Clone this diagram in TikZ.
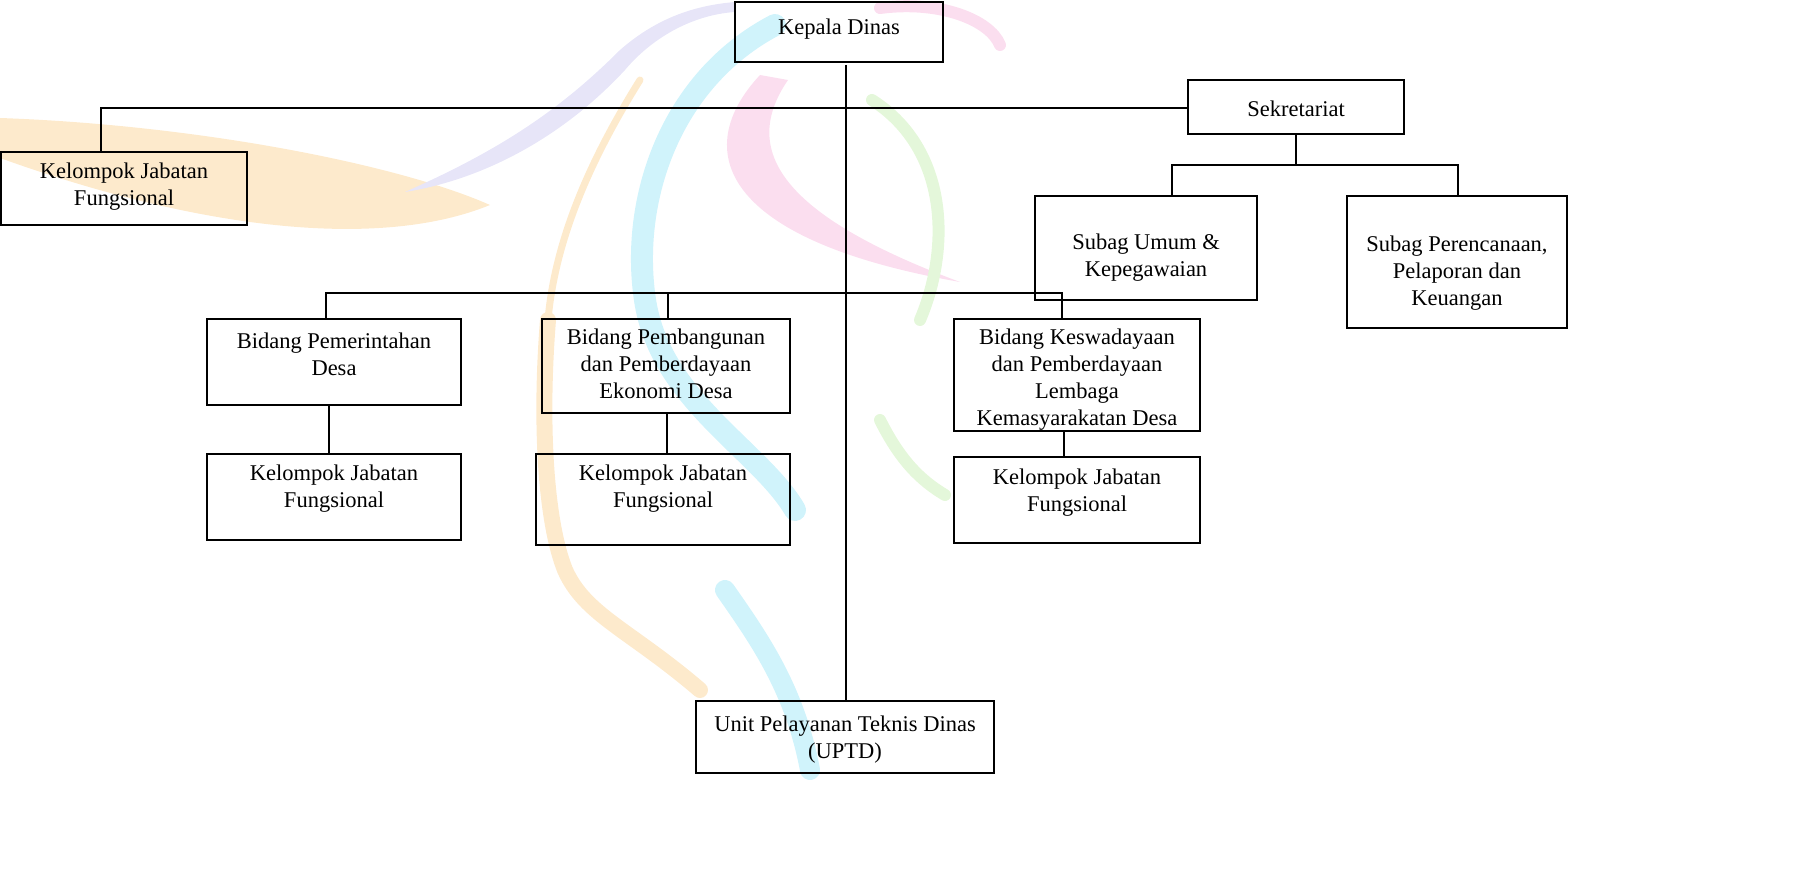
\documentclass[tikz,border=0pt]{standalone}
\usepackage{fontspec}
\setmainfont{Liberation Serif}
\definecolor{wmorange}{RGB}{253,234,204}
\definecolor{wmlav}{RGB}{231,229,248}
\definecolor{wmcyan}{RGB}{208,243,251}
\definecolor{wmpink}{RGB}{251,222,239}
\definecolor{wmgreen}{RGB}{228,247,218}
\begin{document}
\begin{tikzpicture}[x=1pt,y=-1pt,
  box/.style={draw, line width=1.6pt, inner sep=0pt},
  txt/.style={align=center, inner sep=0pt, font=\fontsize{22.5}{27}\selectfont},
  conn/.style={line width=1.6pt},
  wm/.style={line width=#1, line cap=round},
]
\useasboundingbox (0,0) rectangle (1816,896);
% ---- faint watermark ----
\fill[wmorange] (0,118) .. controls (200,125) and (400,165) .. (490,205) .. controls (380,250) and (200,230) .. (0,158) -- cycle;
\draw[wm=7pt, wmorange] (640,80) .. controls (590,160) and (555,240) .. (548,320);
\draw[wm=16pt, wmorange] (548,320) .. controls (540,420) and (545,520) .. (565,570) .. controls (585,615) and (630,630) .. (700,690);
\fill[wmlav] (405,192) .. controls (500,150) and (560,110) .. (620,50) .. controls (660,15) and (700,5) .. (735,2) -- (735,12) .. controls (690,15) and (650,40) .. (625,70) .. controls (560,140) and (480,180) .. (405,192) -- cycle;
\draw[wm=22pt, wmcyan] (775,25) .. controls (670,80) and (630,200) .. (645,300) .. controls (660,400) and (760,450) .. (795,510);
\draw[wm=20pt, wmcyan] (725,590) .. controls (760,640) and (795,690) .. (810,770);
\fill[wmpink] (760,75) .. controls (690,150) and (720,240) .. (960,282) .. controls (780,215) and (740,150) .. (788,80) -- cycle;
\draw[wm=12pt, wmpink] (880,8) .. controls (940,0) and (990,20) .. (1000,45);
\draw[wm=12pt, wmgreen] (872,100) .. controls (950,150) and (950,250) .. (920,320);
\draw[wm=12pt, wmgreen] (880,420) .. controls (900,460) and (920,480) .. (945,495);
% ---- boxes ----
\node[box, minimum width=208pt, minimum height=60pt] (kd) at (839,32) {};
\node[txt] (kdt) at (839,29) {Kepala Dinas};
\node[box, minimum width=246pt, minimum height=73pt] (kf0) at (124,188.5) {};
\node[txt] (kf0t) at (124,187) {Kelompok Jabatan\\Fungsional};
\node[box, minimum width=216pt, minimum height=54pt] (sek) at (1296,107) {};
\node[txt] (sekt) at (1296,109) {Sekretariat};
\node[box, minimum width=222pt, minimum height=104pt] (sub1) at (1146,248) {};
\node[txt] (sub1t) at (1146,258) {Subag Umum \&\\Kepegawaian};
\node[box, minimum width=220pt, minimum height=132pt] (sub2) at (1457,262) {};
\node[txt] (sub2t) at (1457,273) {Subag Perencanaan,\\Pelaporan dan\\Keuangan};
\node[box, minimum width=254pt, minimum height=86pt] (bid1) at (334,362) {};
\node[txt] (bid1t) at (334,354) {Bidang Pemerintahan\\Desa};
\node[box, minimum width=248pt, minimum height=94pt] (bid2) at (666,366) {};
\node[txt] (bid2t) at (666,364) {Bidang Pembangunan\\dan Pemberdayaan\\Ekonomi Desa};
\node[box, minimum width=246pt, minimum height=112pt] (bid3) at (1077,375) {};
\node[txt] (bid3t) at (1077,380) {Bidang Keswadayaan\\dan Pemberdayaan\\Lembaga\\Kemasyarakatan Desa};
\node[box, minimum width=254pt, minimum height=86pt] (kf1) at (334,497) {};
\node[txt] (kf1t) at (334,489) {Kelompok Jabatan\\Fungsional};
\node[box, minimum width=254pt, minimum height=91pt] (kf2) at (663,499.5) {};
\node[txt] (kf2t) at (663,489) {Kelompok Jabatan\\Fungsional};
\node[box, minimum width=246pt, minimum height=86pt] (kf3) at (1077,500) {};
\node[txt] (kf3t) at (1077,493) {Kelompok Jabatan\\Fungsional};
\node[box, minimum width=298pt, minimum height=72pt] (uptd) at (845,737) {};
\node[txt] (uptdt) at (845,740) {Unit Pelayanan Teknis Dinas\\(UPTD)};
% ---- connectors ----
\coordinate (v0) at (846,65);
\coordinate (j1) at (101,108);
\coordinate (s1) at (1172,165);
\coordinate (s2) at (1458,165);
\coordinate (b1) at (326,293);
\coordinate (b2) at (668,293);
\coordinate (b3) at (1062,293);
\coordinate (c1) at (329,0);
\coordinate (c2) at (667,0);
\coordinate (c3) at (1064,0);
\draw[conn] (v0) -- (v0 |- uptd.north);
\draw[conn] (sek.west |- j1) -- (j1) -- (j1 |- kf0.north);
\draw[conn] (sek.south) -- (sek.south |- s1);
\draw[conn] (s1 |- sub1.north) -- (s1) -- (s2) -- (s2 |- sub2.north);
\draw[conn] (b1 |- bid1.north) -- (b1) -- (b3) -- (b3 |- bid3.north);
\draw[conn] (b2) -- (b2 |- bid2.north);
\draw[conn] (c1 |- bid1.south) -- (c1 |- kf1.north);
\draw[conn] (c2 |- bid2.south) -- (c2 |- kf2.north);
\draw[conn] (c3 |- bid3.south) -- (c3 |- kf3.north);
\end{tikzpicture}
\end{document}
